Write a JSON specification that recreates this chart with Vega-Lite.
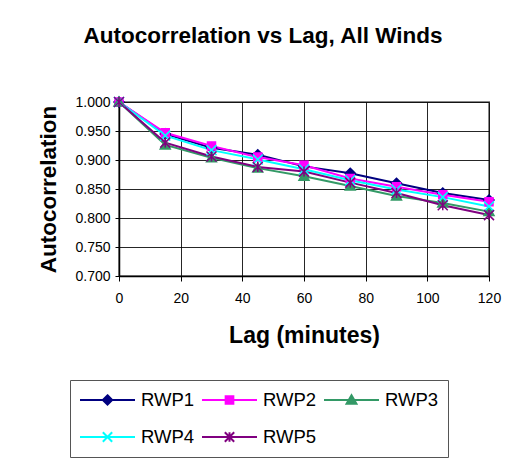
{
  "$schema": "https://vega.github.io/schema/vega-lite/v6.json",
  "width": 370,
  "height": 174,
  "autosize": {"type": "none"},
  "padding": {"left": 119, "top": 102, "right": 25, "bottom": 188},
  "background": "white",
  "title": {
    "text": "Autocorrelation vs Lag, All Winds",
    "font": "Liberation Sans",
    "fontSize": 22.5,
    "fontWeight": "bold",
    "color": "black",
    "anchor": "middle",
    "dx": -41,
    "offset": 47
  },
  "config": {
    "font": "Liberation Sans",
    "view": {"stroke": "#888888", "strokeWidth": 2},
    "axis": {
      "labelFont": "Liberation Sans",
      "labelFontSize": 14,
      "labelColor": "black",
      "titleFont": "Liberation Sans",
      "titleFontWeight": "bold",
      "titleColor": "black",
      "domainColor": "black",
      "domainWidth": 1.5,
      "tickColor": "black",
      "gridColor": "#000000",
      "gridOpacity": 0.85,
      "gridWidth": 1
    }
  },
  "data": {
    "values": [
      {"lag": 0, "series": "RWP1", "value": 1.0},
      {"lag": 15, "series": "RWP1", "value": 0.945},
      {"lag": 30, "series": "RWP1", "value": 0.921},
      {"lag": 45, "series": "RWP1", "value": 0.909},
      {"lag": 60, "series": "RWP1", "value": 0.889},
      {"lag": 75, "series": "RWP1", "value": 0.877},
      {"lag": 90, "series": "RWP1", "value": 0.86},
      {"lag": 105, "series": "RWP1", "value": 0.843},
      {"lag": 120, "series": "RWP1", "value": 0.831},
      {"lag": 0, "series": "RWP2", "value": 1.0},
      {"lag": 15, "series": "RWP2", "value": 0.947},
      {"lag": 30, "series": "RWP2", "value": 0.924},
      {"lag": 45, "series": "RWP2", "value": 0.905},
      {"lag": 60, "series": "RWP2", "value": 0.891},
      {"lag": 75, "series": "RWP2", "value": 0.868},
      {"lag": 90, "series": "RWP2", "value": 0.854},
      {"lag": 105, "series": "RWP2", "value": 0.84},
      {"lag": 120, "series": "RWP2", "value": 0.828},
      {"lag": 0, "series": "RWP3", "value": 1.0},
      {"lag": 15, "series": "RWP3", "value": 0.926},
      {"lag": 30, "series": "RWP3", "value": 0.904},
      {"lag": 45, "series": "RWP3", "value": 0.886},
      {"lag": 60, "series": "RWP3", "value": 0.872},
      {"lag": 75, "series": "RWP3", "value": 0.855},
      {"lag": 90, "series": "RWP3", "value": 0.838},
      {"lag": 105, "series": "RWP3", "value": 0.826},
      {"lag": 120, "series": "RWP3", "value": 0.811},
      {"lag": 0, "series": "RWP4", "value": 1.0},
      {"lag": 15, "series": "RWP4", "value": 0.942},
      {"lag": 30, "series": "RWP4", "value": 0.917},
      {"lag": 45, "series": "RWP4", "value": 0.901},
      {"lag": 60, "series": "RWP4", "value": 0.884},
      {"lag": 75, "series": "RWP4", "value": 0.865},
      {"lag": 90, "series": "RWP4", "value": 0.849},
      {"lag": 105, "series": "RWP4", "value": 0.836},
      {"lag": 120, "series": "RWP4", "value": 0.82},
      {"lag": 0, "series": "RWP5", "value": 1.0},
      {"lag": 15, "series": "RWP5", "value": 0.93},
      {"lag": 30, "series": "RWP5", "value": 0.906},
      {"lag": 45, "series": "RWP5", "value": 0.888},
      {"lag": 60, "series": "RWP5", "value": 0.88},
      {"lag": 75, "series": "RWP5", "value": 0.861},
      {"lag": 90, "series": "RWP5", "value": 0.843},
      {"lag": 105, "series": "RWP5", "value": 0.822},
      {"lag": 120, "series": "RWP5", "value": 0.805}
    ]
  },
  "encoding": {
    "x": {
      "field": "lag",
      "type": "quantitative",
      "scale": {"domain": [0, 120], "nice": false},
      "axis": {
        "title": "Lag (minutes)",
        "titleFontSize": 23,
        "titlePadding": 19,
        "values": [0, 20, 40, 60, 80, 100, 120],
        "tickSize": 5,
        "labelPadding": 10,
        "labelFlush": false
      }
    },
    "y": {
      "field": "value",
      "type": "quantitative",
      "scale": {"domain": [0.7, 1.0], "nice": false, "zero": false},
      "axis": {
        "title": "Autocorrelation",
        "titleFontSize": 22.5,
        "titlePadding": 14,
        "values": [0.7, 0.75, 0.8, 0.85, 0.9, 0.95, 1.0],
        "format": ".3f",
        "tickSize": 4,
        "labelPadding": 5,
        "labelFlush": false
      }
    }
  },
  "layer": [
    {
      "mark": {"type": "line", "strokeWidth": 2},
      "encoding": {
        "color": {
          "field": "series",
          "type": "nominal",
          "scale": {
            "domain": ["RWP1", "RWP2", "RWP3", "RWP4", "RWP5"],
            "range": ["#000080", "#FF00FF", "#339966", "#00FFFF", "#800080"]
          },
          "legend": null
        }
      }
    },
    {
      "mark": {"type": "point", "filled": true, "size": 100, "strokeWidth": 1.5, "opacity": 1},
      "encoding": {
        "color": {
          "field": "series",
          "type": "nominal",
          "scale": {
            "domain": ["RWP1", "RWP2", "RWP3", "RWP4", "RWP5"],
            "range": ["#000080", "#FF00FF", "#339966", "#00FFFF", "#800080"]
          },
          "legend": null
        },
        "shape": {
          "field": "series",
          "type": "nominal",
          "scale": {
            "domain": ["RWP1", "RWP2", "RWP3", "RWP4", "RWP5"],
            "range": [
              "M0,-1L1,0L0,1L-1,0Z",
              "M-0.8,-0.8L0.8,-0.8L0.8,0.8L-0.8,0.8Z",
              "M0,-1L1,0.8L-1,0.8Z",
              "M-1,-1L1,1M1,-1L-1,1",
              "M-1,-1L1,1M1,-1L-1,1M0,-1L0,1"
            ]
          },
          "legend": null
        },
        "stroke": {
          "field": "series",
          "type": "nominal",
          "scale": {
            "domain": ["RWP1", "RWP2", "RWP3", "RWP4", "RWP5"],
            "range": ["#000080", "#FF00FF", "#339966", "#00FFFF", "#800080"]
          },
          "legend": null
        }
      }
    },
    {
      "transform": [{"filter": "false"}],
      "mark": {"type": "point", "filled": true, "strokeWidth": 2, "opacity": 1},
      "encoding": {
        "shape": {
          "field": "series",
          "type": "nominal",
          "scale": {
            "domain": ["RWP1", "RWP2", "RWP3", "RWP4", "RWP5"],
            "range": [
              "M-1,0L1,0M0,-0.17L0.17,0L0,0.17L-0.17,0Z",
              "M-1,0L1,0M-0.14,-0.14L0.14,-0.14L0.14,0.14L-0.14,0.14Z",
              "M-1,0L1,0M0,-0.17L0.18,0.14L-0.18,0.14Z",
              "M-1,0L1,0M-0.17,-0.17L0.17,0.17M0.17,-0.17L-0.17,0.17",
              "M-1,0L1,0M-0.17,-0.17L0.17,0.17M0.17,-0.17L-0.17,0.17M0,-0.17L0,0.17"
            ]
          },
          "legend": {
            "title": null,
            "orient": "none",
            "legendX": -49,
            "legendY": 278,
            "direction": "horizontal",
            "columns": 3,
            "columnPadding": 6,
            "rowPadding": 15,
            "padding": 9,
            "clipHeight": 22,
            "strokeColor": "#555555",
            "labelFont": "Liberation Sans",
            "labelFontSize": 18.5,
            "labelColor": "black",
            "labelOffset": 5,
            "symbolSize": 3025,
            "symbolStrokeWidth": 2
          }
        },
        "fill": {
          "field": "series",
          "type": "nominal",
          "scale": {
            "domain": ["RWP1", "RWP2", "RWP3", "RWP4", "RWP5"],
            "range": ["#000080", "#FF00FF", "#339966", "#00FFFF", "#800080"]
          }
        },
        "stroke": {
          "field": "series",
          "type": "nominal",
          "scale": {
            "domain": ["RWP1", "RWP2", "RWP3", "RWP4", "RWP5"],
            "range": ["#000080", "#FF00FF", "#339966", "#00FFFF", "#800080"]
          }
        }
      }
    }
  ],
  "resolve": {"scale": {"shape": "independent", "stroke": "independent", "fill": "independent"}}
}
